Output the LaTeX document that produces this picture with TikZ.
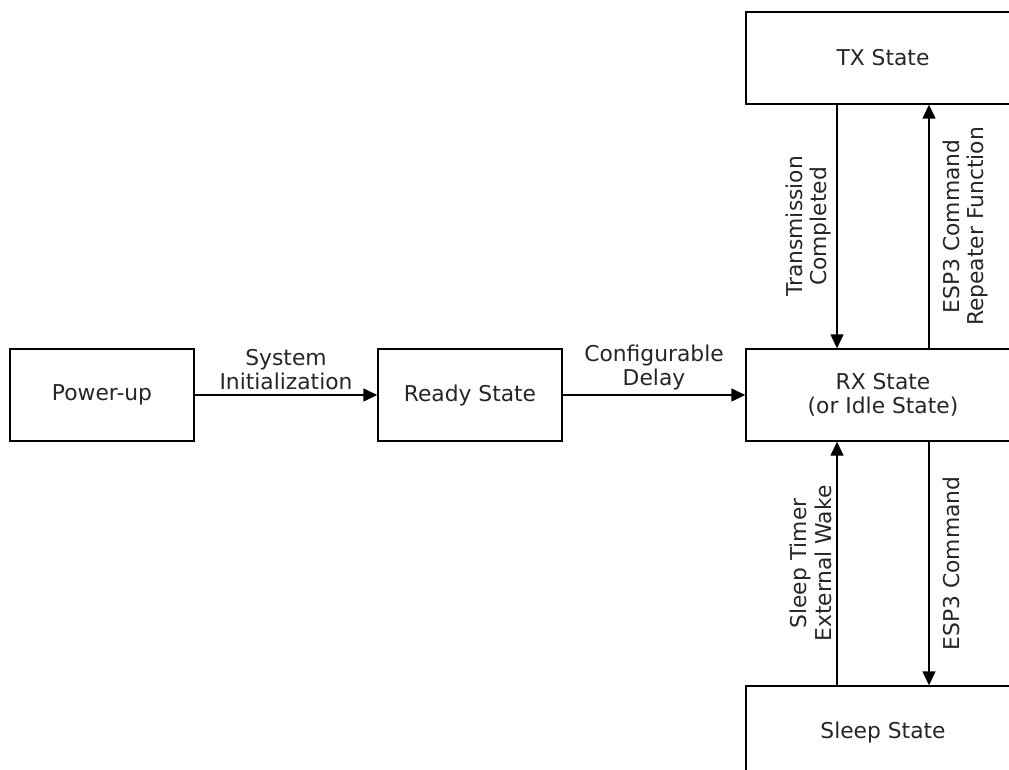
\documentclass[tikz,border=0pt]{standalone}
\usepackage{fontspec}
\setmainfont{DejaVu Sans}
\usetikzlibrary{arrows.meta}
\begin{document}
\begin{tikzpicture}[x=1pt,y=-1pt,
  txt/.style={font=\fontsize{21.8}{24.5}\selectfont, text=black!85, align=center},
  box/.style={txt, draw, line width=1.4pt, inner sep=0pt, minimum height=92pt},
  smallbox/.style={box, minimum width=184pt},
  widebox/.style={box, minimum width=274pt},
  conn/.style={line width=1.4pt, -{Triangle[length=14pt,width=13pt]}},
  hlab/.style={txt, anchor=south, inner sep=4pt},
  vlabl/.style={txt, rotate=90, anchor=south, inner sep=5pt},
  vlabr/.style={txt, rotate=90, anchor=north, inner sep=13pt}]
\useasboundingbox (0,0) rectangle (1009,770);
\clip (0,0) rectangle (1009,770);
\node[smallbox] (pu) at (102,395) {Power-up};
\node[smallbox] (ready) at (470,395) {Ready State};
\node[widebox] (rx) at (883,395) {RX State\\(or Idle State)};
\node[widebox] (tx) at (883,58) {TX State};
\node[widebox] (sleep) at (883,732) {Sleep State};
\draw[conn] (pu.east) -- node[hlab] {System\\Initialization} (ready.west);
\draw[conn] (ready.east) -- node[hlab] {Configurable\\Delay} (rx.west);
\draw[conn] ([xshift=-46pt]tx.south) -- node[vlabl] {Transmission\\Completed} ([xshift=-46pt]rx.north);
\draw[conn] ([xshift=46pt]rx.north) -- node[vlabr] {ESP3 Command\\Repeater Function} ([xshift=46pt]tx.south);
\draw[conn] ([xshift=-46pt]sleep.north) -- node[vlabl] {Sleep Timer\\External Wake} ([xshift=-46pt]rx.south);
\draw[conn] ([xshift=46pt]rx.south) -- node[vlabr] {ESP3 Command} ([xshift=46pt]sleep.north);
\end{tikzpicture}
\end{document}
